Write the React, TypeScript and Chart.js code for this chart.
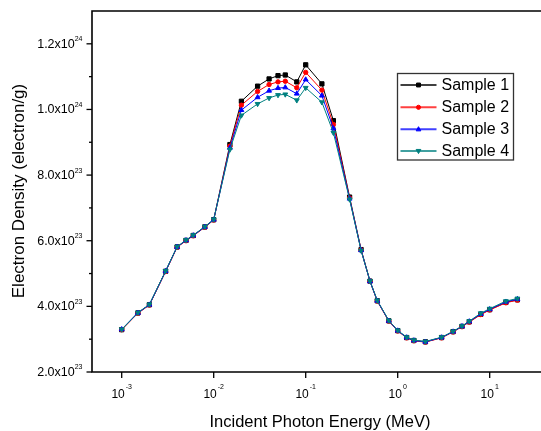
import React, { useEffect, useRef } from "react";
import { Chart, registerables } from "chart.js";

Chart.register(...registerables);

const FONT = '"Liberation Sans", Arial, Helvetica, sans-serif';

// Incident photon energy (MeV)
const energies = [
  0.001, 0.0015, 0.002, 0.003, 0.004, 0.005, 0.006, 0.008, 0.01, 0.015, 0.02,
  0.03, 0.04, 0.05, 0.06, 0.08, 0.1, 0.15, 0.2, 0.3, 0.4, 0.5, 0.6, 0.8, 1,
  1.25, 1.5, 2, 3, 4, 5, 6, 8, 10, 15, 20,
];

// Electron density (electron/g)
const sample1 = [
  3.29e23, 3.8e23, 4.05e23, 5.07e23, 5.81e23, 6.01e23, 6.16e23, 6.42e23, 6.64e23,
  8.93e23, 10.25e23, 10.71e23, 10.93e23, 11.03e23, 11.05e23, 10.84e23, 11.36e23,
  10.78e23, 9.66e23, 7.33e23, 5.73e23, 4.77e23, 4.17e23, 3.56e23, 3.26e23,
  3.05e23, 2.96e23, 2.92e23, 3.05e23, 3.23e23, 3.39e23, 3.53e23, 3.76e23,
  3.9e23, 4.12e23, 4.2e23,
];
const sample2 = [
  3.29e23, 3.79e23, 4.04e23, 5.06e23, 5.8e23, 6.0e23, 6.15e23, 6.41e23, 6.63e23,
  8.88e23, 10.13e23, 10.55e23, 10.76e23, 10.84e23, 10.86e23, 10.66e23, 11.13e23,
  10.59e23, 9.54e23, 7.3e23, 5.72e23, 4.76e23, 4.16e23, 3.55e23, 3.25e23,
  3.04e23, 2.95e23, 2.91e23, 3.04e23, 3.22e23, 3.38e23, 3.52e23, 3.75e23,
  3.89e23, 4.11e23, 4.19e23,
];
const sample3 = [
  3.3e23, 3.8e23, 4.05e23, 5.07e23, 5.81e23, 6.01e23, 6.16e23, 6.42e23, 6.64e23,
  8.83e23, 9.98e23, 10.37e23, 10.57e23, 10.65e23, 10.67e23, 10.48e23, 10.91e23,
  10.42e23, 9.42e23, 7.28e23, 5.71e23, 4.76e23, 4.17e23, 3.56e23, 3.26e23,
  3.05e23, 2.96e23, 2.92e23, 3.05e23, 3.23e23, 3.39e23, 3.54e23, 3.77e23,
  3.91e23, 4.14e23, 4.22e23,
];
const sample4 = [
  3.3e23, 3.81e23, 4.06e23, 5.08e23, 5.82e23, 6.02e23, 6.17e23, 6.43e23, 6.65e23,
  8.78e23, 9.82e23, 10.17e23, 10.35e23, 10.44e23, 10.46e23, 10.28e23, 10.66e23,
  10.22e23, 9.29e23, 7.26e23, 5.7e23, 4.77e23, 4.18e23, 3.57e23, 3.27e23,
  3.06e23, 2.97e23, 2.93e23, 3.06e23, 3.24e23, 3.4e23, 3.55e23, 3.79e23,
  3.93e23, 4.16e23, 4.24e23,
];

const seriesNames = ["Sample 1", "Sample 2", "Sample 3", "Sample 4"];
const seriesColors = ["#000000", "#ff0000", "#0000ff", "#008080"];
const seriesMarkers = ["rect", "circle", "triangle", "triangleDown"];
const seriesValues = [sample1, sample2, sample3, sample4];

// Axis ticks
const xTickValues = [1e-3, 1e-2, 1e-1, 1, 10];
const xTickExponents = ["-3", "-2", "-1", "0", "1"];
const yMajorTicks = [2e23, 4e23, 6e23, 8e23, 1.0e24, 1.2e24];
const yMajorMantissas = ["2.0", "4.0", "6.0", "8.0", "1.0", "1.2"];
const yMajorExponents = ["23", "23", "23", "23", "24", "24"];
const yMinorTicks = [3e23, 5e23, 7e23, 9e23, 1.1e24];

const X_MIN = 4.755e-4;
const X_MAX = 58.1;
const Y_MIN = 2e23;
const Y_MAX = 1.3e24;

const X_TITLE = "Incident Photon Energy (MeV)";
const Y_TITLE = "Electron Density (electron/g)";

function drawMarker(ctx: CanvasRenderingContext2D, kind: string, x: number, y: number, r: number, color: string) {
  ctx.save();
  ctx.fillStyle = color;
  ctx.strokeStyle = color;
  ctx.lineWidth = 1;
  ctx.beginPath();
  if (kind === "rect") {
    const s = r * 0.75;
    ctx.rect(x - s, y - s, 2 * s, 2 * s);
  } else if (kind === "circle") {
    ctx.arc(x, y, r * 0.8, 0, Math.PI * 2);
  } else if (kind === "triangle") {
    ctx.moveTo(x, y - r);
    ctx.lineTo(x + r * 0.9, y + r * 0.6);
    ctx.lineTo(x - r * 0.9, y + r * 0.6);
    ctx.closePath();
  } else {
    ctx.moveTo(x, y + r);
    ctx.lineTo(x + r * 0.9, y - r * 0.6);
    ctx.lineTo(x - r * 0.9, y - r * 0.6);
    ctx.closePath();
  }
  ctx.fill();
  ctx.stroke();
  ctx.restore();
}

const framePlugin = {
  id: "originFrame",
  afterDraw(chart: any) {
    const ctx: CanvasRenderingContext2D = chart.ctx;
    const { left, right, top, bottom } = chart.chartArea;
    const xs = chart.scales.x;
    const ys = chart.scales.y;
    ctx.save();

    // frame
    ctx.strokeStyle = "#000";
    ctx.lineWidth = 1.6;
    ctx.beginPath();
    ctx.moveTo(right + 2, top);
    ctx.lineTo(left, top);
    ctx.lineTo(left, bottom);
    ctx.lineTo(right + 2, bottom);
    ctx.stroke();

    // y ticks
    ctx.lineWidth = 1.3;
    yMajorTicks.forEach((v) => {
      const y = ys.getPixelForValue(v);
      ctx.beginPath();
      ctx.moveTo(left - 5.5, y);
      ctx.lineTo(left, y);
      ctx.stroke();
    });
    yMinorTicks.forEach((v) => {
      const y = ys.getPixelForValue(v);
      ctx.beginPath();
      ctx.moveTo(left - 3, y);
      ctx.lineTo(left, y);
      ctx.stroke();
    });
    // x ticks
    xTickValues.forEach((v) => {
      const x = xs.getPixelForValue(v);
      ctx.beginPath();
      ctx.moveTo(x, bottom);
      ctx.lineTo(x, bottom + 6);
      ctx.stroke();
    });

    ctx.fillStyle = "#000";
    ctx.textBaseline = "middle";
    // y labels
    yMajorTicks.forEach((v, i) => {
      const y = ys.getPixelForValue(v);
      ctx.font = `7px ${FONT}`;
      const ew = ctx.measureText(yMajorExponents[i]).width;
      const rightEdge = left - 9.5;
      ctx.textAlign = "left";
      ctx.fillText(yMajorExponents[i], rightEdge - ew, y - 4.5);
      ctx.font = `12.5px ${FONT}`;
      ctx.textAlign = "right";
      ctx.fillText(`${yMajorMantissas[i]}x10`, rightEdge - ew, y + 0.5);
    });
    // x labels
    xTickValues.forEach((v, i) => {
      const x = xs.getPixelForValue(v);
      ctx.font = `12px ${FONT}`;
      const mw = ctx.measureText("10").width;
      ctx.font = `7px ${FONT}`;
      const ew = ctx.measureText(xTickExponents[i]).width;
      const start = x - (mw + ew + 1) / 2;
      ctx.textAlign = "left";
      ctx.fillText(xTickExponents[i], start + mw + 1, bottom + 15.5);
      ctx.font = `12px ${FONT}`;
      ctx.fillText("10", start, bottom + 22.5);
    });

    // titles
    ctx.textBaseline = "alphabetic";
    ctx.textAlign = "center";
    ctx.font = `16.5px ${FONT}`;
    ctx.fillText(X_TITLE, 320, 427);
    ctx.save();
    ctx.translate(23.5, 191);
    ctx.rotate(-Math.PI / 2);
    ctx.font = `17px ${FONT}`;
    ctx.fillText(Y_TITLE, 0, 0);
    ctx.restore();

    // legend
    const bx = 397.5, by = 73.5, bw = 116, bh = 86.5;
    ctx.strokeStyle = "#333";
    ctx.lineWidth = 1.3;
    ctx.strokeRect(bx, by, bw, bh);
    const rows = [85, 107.3, 129.3, 151];
    seriesNames.forEach((name, i) => {
      const y = rows[i];
      ctx.strokeStyle = seriesColors[i];
      ctx.globalAlpha = 0.75;
      ctx.lineWidth = 2;
      ctx.beginPath();
      ctx.moveTo(400.5, y);
      ctx.lineTo(436.5, y);
      ctx.stroke();
      ctx.globalAlpha = 1;
      drawMarker(ctx, seriesMarkers[i], 418.5, y, 2.6, seriesColors[i]);
      ctx.fillStyle = "#000";
      ctx.textAlign = "left";
      ctx.textBaseline = "middle";
      ctx.font = `16px ${FONT}`;
      ctx.fillText(name, 441.5, y + 0.5);
    });
    ctx.restore();
  },
};

export default function App() {
  const ref = useRef<HTMLCanvasElement>(null);
  useEffect(() => {
    const canvas = ref.current!;
    const datasets = seriesNames.map((name, i) => ({
      label: name,
      data: energies.map((e, j) => ({ x: e, y: seriesValues[i][j] })),
      borderColor: seriesColors[i],
      backgroundColor: seriesColors[i],
      borderWidth: 1,
      tension: 0,
      pointStyle: seriesMarkers[i] === "triangleDown" ? "triangle" : seriesMarkers[i],
      pointRotation: seriesMarkers[i] === "triangleDown" ? 180 : 0,
      pointRadius: seriesMarkers[i] === "circle" ? 2.2 : seriesMarkers[i] === "rect" ? 3 : 2.8,
      pointBorderWidth: 1,
      order: 3 - i,
    }));
    const chart = new Chart(canvas, {
      type: "line",
      data: { datasets } as any,
      options: {
        responsive: false,
        animation: false,
        devicePixelRatio: 1,
        layout: { padding: { top: 11, right: 20, left: 0, bottom: 0 } },
        plugins: { legend: { display: false }, tooltip: { enabled: false } },
        scales: {
          x: {
            type: "logarithmic",
            min: X_MIN,
            max: X_MAX,
            grid: { display: false },
            border: { display: false },
            ticks: { display: false },
            afterFit: (s: any) => {
              s.height = 59;
            },
          },
          y: {
            type: "linear",
            min: Y_MIN,
            max: Y_MAX,
            grid: { display: false },
            border: { display: false },
            ticks: { display: false },
            afterFit: (s: any) => {
              s.width = 92;
            },
          },
        },
      } as any,
      plugins: [framePlugin],
    });
    return () => chart.destroy();
  }, []);
  return (
    <div
      style={{
        position: "fixed",
        left: 0,
        top: 0,
        width: 541,
        height: 431,
        overflow: "hidden",
        background: "#fff",
      }}
    >
      <canvas ref={ref} width={580} height={431} style={{ display: "block", width: 580, height: 431 }} />
    </div>
  );
}
